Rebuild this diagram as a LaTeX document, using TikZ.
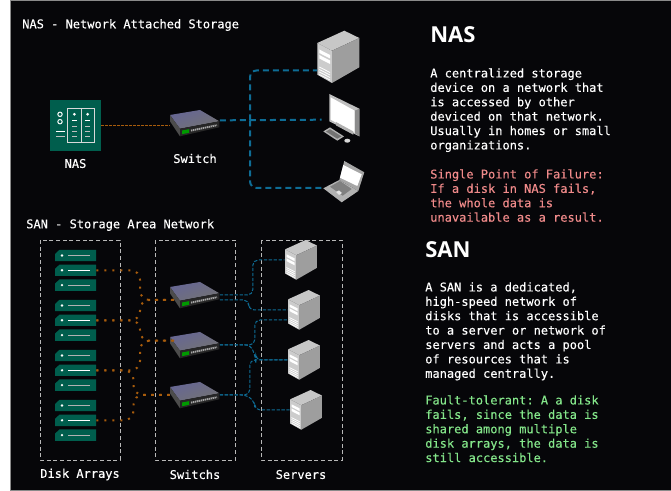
\documentclass[tikz,border=0pt]{standalone}
\usepackage{fontspec}
\setmonofont[FakeBold=0.25]{DejaVu Sans Mono}
\newfontfamily\titlefont{Open Sans}
\usetikzlibrary{positioning}
\definecolor{bgblack}{HTML}{060609}
\definecolor{framegrey}{HTML}{8A8A8A}
\definecolor{tealfill}{HTML}{005E4D}
\definecolor{linkblue}{HTML}{0E6C95}
\definecolor{linkorange}{HTML}{A85C0C}
\definecolor{boxgrey}{HTML}{B8B8B8}
\definecolor{softred}{HTML}{F08A8A}
\definecolor{softgreen}{HTML}{84E68A}
\tikzset{
  txt/.style={font=\ttfamily\fontsize{9pt}{10.8pt}\selectfont,text=white,inner sep=0pt},
  para/.style={txt,anchor=north west,align=left},
  headline/.style={font=\titlefont\bfseries\fontsize{16.5pt}{18pt}\selectfont,text=white,inner sep=0pt,anchor=west},
  groupbox/.style={draw=boxgrey,dashed,line width=0.6pt,dash pattern=on 3pt off 2pt},
  devbox/.style={inner sep=0pt,minimum width=#1},
  swbox/.style={devbox=36.75pt,minimum height=19pt},
  srvbox/.style={devbox=24pt,minimum height=30pt},
  diskbox/.style={devbox=30.75pt,minimum height=8.5pt},
  nasline/.style={draw=linkorange,line width=0.6pt,dash pattern=on 2pt off 1pt},
  bluemain/.style={draw=linkblue,line width=1.5pt,dash pattern=on 4.5pt off 3pt,rounded corners=5pt},
  bluelink/.style={draw=linkblue,line width=0.75pt,dash pattern=on 2.5pt off 1.2pt,rounded corners=4pt},
  dotlink/.style={draw=linkorange,line width=1.5pt,dash pattern=on 1.5pt off 4.5pt,rounded corners=7pt},
  %% icons, drawn in pixels round their centre
  servericon/.pic={
    \fill[black!22] (6,-26.3) -- (-21,-14) -- (-6.3,-6.3) -- (21,-19) -- cycle;
    \fill[black!20] (-21,-14) -- (-6.3,-6.3) -- (-6.3,26) -- (-21,17.7) -- cycle;
    \fill[black!38] (-6.3,-6.3) -- (21,-19) -- (21,10.3) -- (-6.3,26) -- cycle;
    \fill[white] (-19,-7.5) -- (-8.3,-2) -- (-8.3,1.5) -- (-19,-4) -- cycle;
    \fill[white] (-19,-2) -- (-8.3,3.5) -- (-8.3,7) -- (-19,1.5) -- cycle;
    \foreach \k in {11,13.5,16,18.5}
      \draw[white,line width=0.6pt] (-19,\k-1) -- (-8.3,\k+4.5);
  },
  monitoricon/.pic={
    \fill[black!25] (-10.7,-25.7) -- (19.3,-11) -- (19.3,16.7) -- (-10.7,1.7) -- cycle;
    \fill[black!45] (14.7,-9) -- (19.3,-11) -- (19.3,16.7) -- (14.7,13.3) -- cycle;
    \fill[white] (-9.3,-22.3) -- (14.7,-9) -- (14.7,13.3) -- (-9.3,0) -- cycle;
    \fill[black!30] (-4,2.3) -- (13.3,11.7) -- (13.3,15) -- (-4,5.7) -- cycle;
    \fill[black!30] (-16.7,11.7) -- (-10,7.7) -- (4,16.7) -- (-2.7,21) -- cycle;
    \fill[black!55] (-14,11.8) -- (-10,9.5) -- (1.5,16.7) -- (-2.7,19) -- cycle;
    \fill[black!15] (7.3,21) ellipse (3 and 2);
  },
  laptopicon/.pic={
    \fill[black!35] (-5.7,0) -- (-0.7,-19) -- (19.3,-7.7) -- (13.3,11) -- cycle;
    \fill[white] (-1.7,-15) -- (16.7,-5.7) -- (12.3,6) -- (-5,-2.3) -- cycle;
    \fill[black!30] (-21.7,8.3) -- (-5.7,0) -- (13.3,11) -- (-3.3,22.3) -- cycle;
    \fill[black!50] (-15,6.7) -- (-5,1) -- (6.7,9) -- (-2.3,15.7) -- cycle;
    \fill[black!10] (-9,12) -- (-6,10.5) -- (-3,13) -- (-6,15) -- cycle;
  },
  switchicon/.pic={
    \shade[left color=black!70!blue!60,middle color=black!15,right color=black!55,shading angle=20]
      (-25,-8) -- (5,-13) -- (24.3,-1.7) -- (-15,5.7) -- cycle;
    \fill[black!70] (-25,-8) -- (-15,5.7) -- (-15,13.3) -- (-25,-1.7) -- cycle;
    \fill[black!85] (-15,5.7) -- (24.3,-1.7) -- (24.3,4.3) -- (-15,13.3) -- cycle;
    \fill[green!60!black] (-13,7.5) -- (-6,6.2) -- (-6,9.8) -- (-13,11.2) -- cycle;
    \draw[black!35,line width=1.4pt,dash pattern=on 1pt off 0.5pt] (-4,7.6) -- (22,2.2);
  },
  nasicon/.pic={
    \fill[tealfill] (-25.5,-25.5) rectangle (25.5,25.5);
    \draw[black!15,line width=0.75pt] (-7.8,-17.2) rectangle (18.8,16.8) (5.5,-17.2) -- (5.5,16.8);
    \draw[white,line width=0.75pt] (-15.5,-11.2) circle (2.2) (-15.5,-3.8) circle (2.2);
    \draw[white,line width=0.75pt] (-19.5,6.2) -- (-11,6.2);
    \draw[black!25,line width=0.75pt] (-19.5,11.5) -- (-11,11.5);
    \foreach \c in {-1.2,12.2}{
      \fill[white] (\c,-11.2) circle (1.5);
      \draw[white,line width=0.75pt] (\c-2.5,-4.5) -- (\c+2.5,-4.5);
      \foreach \k in {1.2,6.2,11.2}
        \draw[black!25,line width=0.75pt] (\c-2.5,\k) -- (\c+2.5,\k);
    }
  },
  pics/diskicon/.style={code={
    \fill[tealfill] (-20.5,5.7) -- (-20.5,-1.5) -- (-16,-5.7) -- (20.5,-5.7) -- (20.5,5.7) -- cycle;
    \fill[white] (-13.5,0) circle (1.3);
    \draw[#1,line width=0.75pt] (-7.5,0) -- (14.5,0);
  }},
}
\begin{document}
\begin{tikzpicture}[x=0.75pt,y=-0.75pt]
  \useasboundingbox (0,0) rectangle (671,491);
  %% page and frame
  \fill[white] (0,0) rectangle (671,491);
  \fill[framegrey] (10,0) rectangle (671,491);
  \fill[bgblack] (11,1) rectangle (671,490);
  %% titles
  \node[txt,anchor=west] (nastitle) at (22,25) {NAS - Network Attached Storage};
  \node[txt,anchor=west] (santitle) at (26,225) {SAN - Storage Area Network};
  %% nas part
  \node[inner sep=0pt,minimum size=38.25pt] (nas) at (75.5,125.5) {};
  \pic at (nas) {nasicon};
  \node[txt] (naslabel) at (75.5,163.5) {NAS};
  \node[swbox] (swtop) at (195,123) {};
  \pic at (swtop) {switchicon};
  \node[txt] (swlabel) at (195,158.5) {Switch};
  \node[devbox=31.5pt,minimum height=39pt] (bigsrv) at (338.3,57) {};
  \pic at (bigsrv) {servericon};
  \node[devbox=27pt,minimum height=36pt] (monitor) at (340,119.7) {};
  \pic at (monitor) {monitoricon};
  \node[devbox=33pt,minimum height=30pt] (laptop) at (345,180) {};
  \pic at (laptop) {laptopicon};
  \coordinate (hub) at (250,120.5);
  \draw[nasline] (nas.east) -- (swtop.west |- nas.east);
  \draw[bluemain] ([yshift=2pt]swtop.east) -- (monitor.west);
  \draw[bluemain] (hub) |- ([yshift=-10.1pt]bigsrv.west);
  \draw[bluemain] (hub) |- ([yshift=-6pt]laptop.west);
  %% san groups
  \draw[groupbox] (40,240) rectangle (120,460);
  \draw[groupbox] (155,240) rectangle (235.5,460);
  \draw[groupbox] (261,240) rectangle (342,460);
  \node[txt] (disklabel) at (80,474.5) {Disk Arrays};
  \node[txt] (switchlabel) at (195,474.5) {Switchs};
  \node[txt] (serverlabel) at (301,474.5) {Servers};
  %% disk arrays
  \foreach \n/\y in {1/270.3,2/320.3,3/370.3,4/420.3}{
    \node[diskbox] (dm\n) at (75.5,\y) {};
    \pic at (dm\n) {diskicon=white};
    \node[diskbox,above=2.2pt of dm\n] (dt\n) {};
    \pic at (dt\n) {diskicon=black!30};
    \node[diskbox,below=2.2pt of dm\n] (db\n) {};
    \pic at (db\n) {diskicon=black!30};
  }
  %% switches
  \foreach \n/\y in {1/295,2/345,3/395}{
    \node[swbox] (sw\n) at (195,\y) {};
    \pic at (sw\n) {switchicon};
  }
  %% servers
  \foreach \n/\x/\y in {1/301/260,2/304/310,3/304/360,4/306/410}{
    \node[srvbox] (srv\n) at (\x,\y) {};
    \pic[scale=0.76] at (srv\n) {servericon};
  }
  %% switch to server
  \draw[bluelink] (sw1.east) -- ++(33,0) |- (srv1.west);
  \draw[bluelink] ([yshift=-3.75pt]sw1.east) -- ++(29,0) |- (srv2.west);
  \draw[bluelink] (sw2.east) -- ++(35,0) |- ([yshift=-7.5pt]srv2.west);
  \draw[bluelink] (sw2.east) -- ++(31,0) -- ++(5,13) |- (srv3.west);
  \draw[bluelink] (sw3.east) -- ++(30,0) |- (srv3.west);
  \draw[bluelink] (sw3.east) -- ++(27,0) -- ++(8,7) |- (srv4.west);
  %% disk to switch
  \coordinate (busa) at (140,300);
  \coordinate (busb) at (140,340.7);
  \coordinate (busc) at (133.5,395);
  \coordinate (swina) at (178,300);
  \coordinate (swinb) at (178,340.7);
  \draw[dotlink] (dm1.east) -| (busa) -- (swina);
  \draw[dotlink] (dm2.east) -| (busa) -- (swina);
  \draw[dotlink] (dm2.east) -| (busb) -- (swinb);
  \draw[dotlink] (dm3.east) -| (busb) -- (swinb);
  \draw[dotlink] (dm3.east) -| (busc) -- (sw3.west);
  \draw[dotlink] (dm4.east) -| (busc) -- (sw3.west);
  %% right column
  \node[headline] (nashead) at (430,35) {NAS};
  \node[para] (nastext) at (430,68) {A centralized storage\\device on a network that\\is accessed by other\\deviced on that network.\\Usually in homes or small\\organizations.};
  \node[para,text=softred] (nasfail) at (430,169) {Single Point of Failure:\\If a disk in NAS fails,\\the whole data is\\unavailable as a result.};
  \node[headline] (sanhead) at (425,250) {SAN};
  \node[para] (santext) at (425,282) {A SAN is a dedicated,\\high-speed network of\\disks that is accessible\\to a server or network of\\servers and acts a pool\\of resources that is\\managed centrally.};
  \node[para,text=softgreen] (sanok) at (425,395) {Fault-tolerant: A a disk\\fails, since the data is\\shared among multiple\\disk arrays, the data is\\still accessible.};
\end{tikzpicture}
\end{document}
